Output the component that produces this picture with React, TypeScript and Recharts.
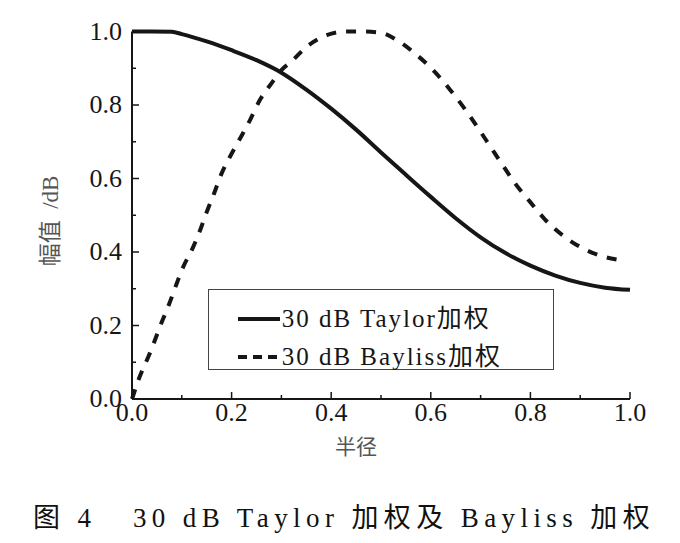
import { LineChart, Line, XAxis, YAxis, Legend } from "recharts";

// 30 dB Taylor weighting (solid)
const taylorRadius = [0, 0.04, 0.08, 0.1, 0.15, 0.2, 0.25, 0.3, 0.35, 0.4, 0.45, 0.5, 0.55, 0.6, 0.65, 0.7, 0.75, 0.8, 0.85, 0.9, 0.95, 1.0];
const taylorAmp = [1.0, 1.0, 0.999, 0.993, 0.973, 0.949, 0.922, 0.888, 0.842, 0.79, 0.733, 0.671, 0.61, 0.55, 0.492, 0.44, 0.397, 0.363, 0.336, 0.316, 0.303, 0.297];

// 30 dB Bayliss weighting (dashed)
const baylissRadius = [0, 0.013, 0.036, 0.06, 0.075, 0.09, 0.103, 0.12, 0.137, 0.149, 0.165, 0.18, 0.197, 0.217, 0.237, 0.257, 0.28, 0.3, 0.32, 0.351, 0.391, 0.431, 0.464, 0.498, 0.537, 0.572, 0.608, 0.639, 0.669, 0.695, 0.719, 0.744, 0.769, 0.799, 0.829, 0.866, 0.905, 0.943, 0.98];
const baylissAmp = [0, 0.052, 0.125, 0.21, 0.26, 0.315, 0.36, 0.405, 0.46, 0.505, 0.56, 0.614, 0.66, 0.709, 0.759, 0.814, 0.859, 0.895, 0.918, 0.959, 0.99, 1.0, 1.0, 0.997, 0.972, 0.936, 0.89, 0.841, 0.788, 0.737, 0.688, 0.637, 0.587, 0.537, 0.489, 0.444, 0.41, 0.389, 0.378];

const xTicks = [0, 0.1, 0.2, 0.3, 0.4, 0.5, 0.6, 0.7, 0.8, 0.9, 1.0];
const yTicks = [0, 0.1, 0.2, 0.3, 0.4, 0.5, 0.6, 0.7, 0.8, 0.9, 1.0];

const seriesNames = ["30 dB Taylor加权", "30 dB Bayliss加权"];
const xTitle = "半径";
const yTitle = "幅值  /dB";
const caption = "图 4   30 dB Taylor 加权及 Bayliss 加权";

const taylorData = taylorRadius.map((r, i) => ({ r, v: taylorAmp[i] }));
const baylissData = baylissRadius.map((r, i) => ({ r, v: baylissAmp[i] }));

const SERIF = '"Liberation Serif", "Noto Sans CJK SC", serif';
const INK = "#161616";

const isMajor = (v: number) => Math.round(v * 10) % 2 === 0;

function XTick({ x, y, payload }: any) {
  const major = isMajor(payload.value);
  return (
    <g>
      <line x1={x} x2={x} y1={y} y2={y - (major ? 7 : 4)} stroke={INK} strokeWidth={1.5} />
      {major && (
        <text x={x} y={y + 22} textAnchor="middle" fontFamily={SERIF} fontSize={26} fill={INK}>
          {payload.value.toFixed(1)}
        </text>
      )}
    </g>
  );
}

function YTick({ x, y, payload }: any) {
  const major = isMajor(payload.value);
  return (
    <g>
      <line x1={x} x2={x + (major ? 7 : 4)} y1={y} y2={y} stroke={INK} strokeWidth={1.5} />
      {major && (
        <text x={x - 10} y={y + 8} textAnchor="end" fontFamily={SERIF} fontSize={26} fill={INK}>
          {payload.value.toFixed(1)}
        </text>
      )}
    </g>
  );
}

function LegendBox({ payload }: any) {
  const rows = [...(payload || [])].sort(
    (a: any, b: any) => seriesNames.indexOf(a.value) - seriesNames.indexOf(b.value)
  );
  return (
    <div
      style={{
        width: 346,
        height: 81,
        boxSizing: "border-box",
        border: "1.5px solid #444",
        background: "#fff",
        paddingTop: 10,
        paddingLeft: 28,
      }}
    >
      {rows.map((entry: any, i: number) => (
        <div key={i} style={{ display: "flex", alignItems: "center", height: 38 }}>
          <svg width={44} height={10} style={{ marginRight: 1 }}>
            <line
              x1={1}
              x2={43}
              y1={5}
              y2={5}
              stroke={INK}
              strokeWidth={4}
              strokeDasharray={entry.payload?.strokeDasharray ? "9 6" : undefined}
            />
          </svg>
          <span style={{ fontFamily: SERIF, fontSize: 25, letterSpacing: 2, color: INK, lineHeight: "30px" }}>
            {entry.value}
          </span>
        </div>
      ))}
    </div>
  );
}

export default function App() {
  return (
    <div style={{ width: 664, background: "#fff" }}>
      <LineChart width={664} height={460} margin={{ top: 23.5, right: 42, bottom: 9, left: 0 }}>
        <XAxis
          type="number"
          dataKey="r"
          domain={[0, 1]}
          ticks={xTicks}
          interval={0}
          tickSize={0}
          tickMargin={0}
          tick={<XTick />}
          axisLine={{ stroke: INK, strokeWidth: 2 }}
          height={60}
          label={() => (
            <text x={348} y={446} textAnchor="middle" fontFamily={SERIF} fontSize={21} fill="#555">
              {xTitle}
            </text>
          )}
        />
        <YAxis
          type="number"
          domain={[0, 1]}
          ticks={yTicks}
          interval={0}
          tickSize={0}
          tickMargin={0}
          tick={<YTick />}
          axisLine={{ stroke: INK, strokeWidth: 2 }}
          width={124}
          label={() => (
            <text
              x={42}
              y={213}
              transform="rotate(-90 42 213)"
              textAnchor="middle"
              dominantBaseline="central"
              fontFamily={SERIF}
              fontSize={23}
              fill="#555"
              style={{ whiteSpace: "pre" }}
            >
              {yTitle}
            </text>
          )}
        />
        <Line
          data={taylorData}
          dataKey="v"
          name={seriesNames[0]}
          type="monotone"
          stroke={INK}
          strokeWidth={4}
          dot={false}
          isAnimationActive={false}
        />
        <Line
          data={baylissData}
          dataKey="v"
          name={seriesNames[1]}
          type="monotone"
          stroke={INK}
          strokeWidth={4}
          strokeDasharray="10 10"
          dot={false}
          isAnimationActive={false}
        />
        <Legend
          layout="horizontal"
          verticalAlign="middle"
          align="center"
          content={<LegendBox />}
          wrapperStyle={{ left: 199.7, top: 281.3, width: 346, height: 81 }}
        />
      </LineChart>
      <div
        style={{
          marginTop: 35,
          marginLeft: 25,
          fontFamily: SERIF,
          fontSize: 27,
          lineHeight: "30px",
          letterSpacing: 5.4,
          whiteSpace: "pre",
          color: "#111",
        }}
      >
        {caption}
      </div>
    </div>
  );
}
